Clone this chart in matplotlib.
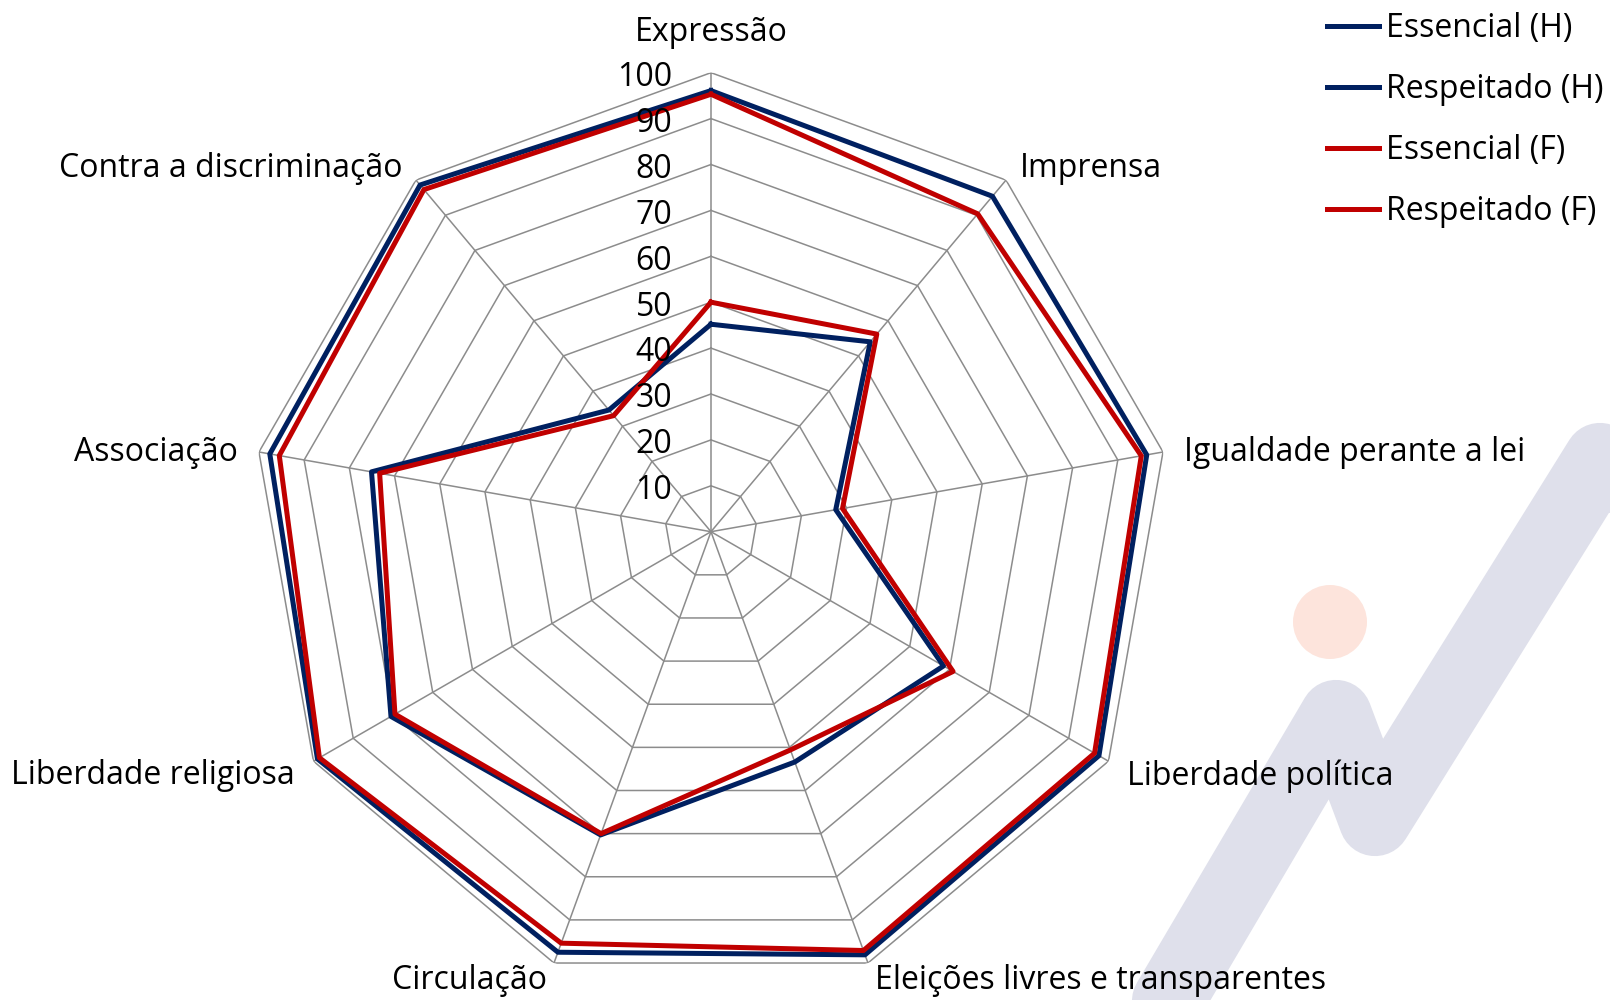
import numpy as np
import matplotlib
matplotlib.use('Agg')
import matplotlib.pyplot as plt
from matplotlib.patches import Circle

plt.rcParams['font.family'] = ['Open Sans', 'DejaVu Sans']

# dados
categorias = ['Expressão', 'Imprensa', 'Igualdade perante a lei', 'Liberdade política',
              'Eleições livres e transparentes', 'Circulação', 'Liberdade religiosa',
              'Associação', 'Contra a discriminação']
essencial_h = [96.1, 95.4, 96.4, 97.6, 98.1, 97.5, 99.0, 97.6, 98.6]
respeitado_h = [45.2, 54.0, 27.6, 58.5, 53.4, 70.3, 80.5, 75.1, 34.6]
essencial_f = [95.3, 90.4, 95.2, 96.5, 97.1, 95.4, 98.5, 95.5, 97.3]
respeitado_f = [50.0, 56.2, 29.1, 60.9, 50.6, 70.0, 79.5, 73.3, 33.0]
niveis = [10, 20, 30, 40, 50, 60, 70, 80, 90, 100]

azul = '#002060'
vermelho = '#C00000'
cinza = '#8c8c8c'
fs = 23

fig = plt.figure(figsize=(16.1, 10), dpi=100)

# marca d'água ao fundo
bg = fig.add_axes([0, 0, 1, 1], zorder=0)
bg.set_xlim(0, 1610)
bg.set_ylim(1000, 0)
bg.axis('off')
bg.plot([1105, 1336, 1375, 1600, 1700], [1108, 716, 820, 459, 620],
        color='#dfe0eb', lw=52, solid_capstyle='round', solid_joinstyle='round')
bg.add_patch(Circle((1330, 622), 37, color='#fde4dc', lw=0))

ax = fig.add_axes([0.1565, 0.0093, 0.5702, 0.918], projection='polar', zorder=1)
ax.set_facecolor('none')
ax.set_theta_zero_location('N')
ax.set_theta_direction(-1)
ax.set_ylim(0, 100)
ax.grid(False)
ax.spines['polar'].set_visible(False)
ax.set_xticks([])
ax.set_yticks([])

n = len(categorias)
ang = np.linspace(0, 2 * np.pi, n, endpoint=False)
ang_fechado = np.append(ang, ang[0])

# grelha poligonal
for nv in niveis:
    ax.plot(ang_fechado, [nv] * (n + 1), color=cinza, lw=1.1, zorder=1)
for a in ang:
    ax.plot([a, a], [0, 100], color=cinza, lw=1.1, zorder=1)

def fechar(v):
    return list(v) + [v[0]]

ax.plot(ang_fechado, fechar(essencial_h), color=azul, lw=3.6, label='Essencial (H)', zorder=3)
ax.plot(ang_fechado, fechar(respeitado_h), color=azul, lw=3.6, label='Respeitado (H)', zorder=3)
ax.plot(ang_fechado, fechar(essencial_f), color=vermelho, lw=3.6, label='Essencial (F)', zorder=4)
ax.plot(ang_fechado, fechar(respeitado_f), color=vermelho, lw=3.6, label='Respeitado (F)', zorder=4)

# rótulos do eixo radial
for nv in niveis:
    ax.annotate(str(nv), xy=(0, nv), xytext=(-28, -3.5), textcoords='offset points',
                ha='right', va='center', fontsize=fs, zorder=5, annotation_clip=False)

# rótulos das categorias
for a, nome in zip(ang, categorias):
    s = np.sin(a)
    if abs(s) < 0.1:
        r, ha = 109.6, 'center'
    elif s > 0:
        r, ha = 104.6, 'left'
    else:
        r, ha = 104.6, 'right'
    dy = 2 if np.cos(a) < -0.8 else -3
    ax.annotate(nome, xy=(a, r), xytext=(0, dy), textcoords='offset points',
                ha=ha, va='center', fontsize=fs, annotation_clip=False)

fig.legend(loc='upper left', bbox_to_anchor=(1314 / 1610, 1.001), frameon=False,
           fontsize=fs, handlelength=1.65, handletextpad=0.2, labelspacing=0.88,
           borderaxespad=0)

fig.savefig('out.png', dpi=100)
